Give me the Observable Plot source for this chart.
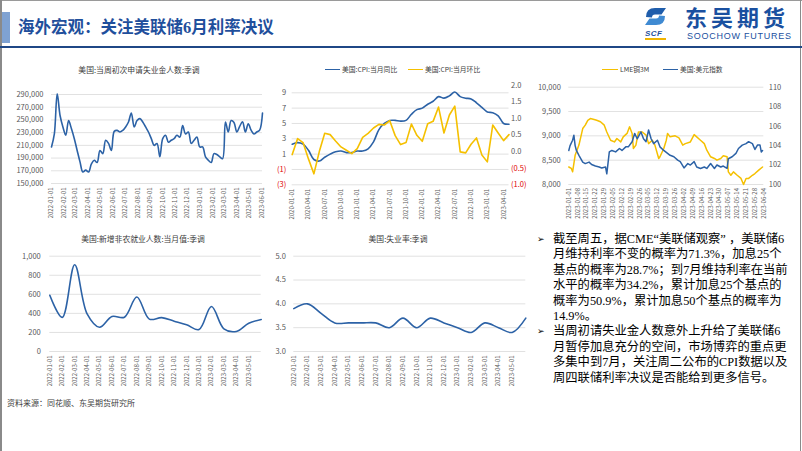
<!DOCTYPE html>
<html><head><meta charset="utf-8">
<script src="https://cdn.jsdelivr.net/npm/d3@7"></script>
<script src="https://cdn.jsdelivr.net/npm/@observablehq/plot@0.6"></script>
<style>
html,body{margin:0;padding:0;background:#fff;}
#slide{position:relative;width:802px;height:451px;overflow:hidden;background:#fff;font-family:"Noto Sans CJK SC","Noto Sans",sans-serif;}
.a{position:absolute;white-space:nowrap;}
.ct{font-size:7.8px;color:#404040;line-height:10px;transform:translateX(-50%);}
.lg{font-size:6.8px;color:#404040;line-height:10px;}
.sw{position:absolute;height:0;border-top:1.6px solid;}
.bl{display:flex;}
.bu{font-family:"DejaVu Sans";font-size:9px;width:16px;flex:none;}
</style></head>
<body>
<div id="slide">
  <div class="a" style="left:0;top:0;width:802px;height:1px;background:#9a9a9a"></div>
  <div class="a" style="left:0;top:0;width:1.5px;height:451px;background:#8a8a8a"></div>
  <div class="a" style="left:799.5px;top:0;width:1.5px;height:451px;background:#8a8a8a"></div>
  <div class="a" style="left:2px;top:12px;width:8px;height:31px;background:#7fa2d2"></div>
  <div class="a" style="left:18px;top:17px;font-family:'Liberation Serif','Noto Sans CJK SC';font-weight:700;font-size:16.5px;line-height:22px;color:#1f4f9c">海外宏观：关注美联储6月利率决议</div>
  <div class="a" style="left:0;top:46px;width:802px;height:2px;background:#1f4786"></div>
  <svg class="a" style="left:644px;top:6px" width="23" height="21" viewBox="0 0 23 21">
    <path d="M2 11 Q2 2 11 2 L22 2 L17.5 8.5 L11 8.5 Q8 8.5 8 11.5 Z" fill="#1f5dab"/>
    <path d="M21 10 Q21 19 12 19 L1 19 L5.5 12.5 L12 12.5 Q15 12.5 15 9.5 Z" fill="#3f8ad2"/>
  </svg>
  <div class="a" style="left:645px;top:29px;font-family:'Liberation Sans';font-weight:700;font-style:italic;font-size:8px;line-height:9px;color:#1f4f9c;letter-spacing:0.5px">SCF</div>
  <div class="a" style="left:645px;top:38px;width:21px;height:2px;background:#f0b400"></div>
  <div class="a" style="left:685px;top:4px;font-weight:700;font-size:22px;line-height:25px;color:#1a50a0;letter-spacing:4px">东吴期货</div>
  <div class="a" style="left:687px;top:32px;font-family:'Liberation Sans';font-size:9px;line-height:9px;color:#1a50a0;letter-spacing:0.75px">SOOCHOW FUTURES</div>

  <div class="a ct" style="left:139px;top:65px">美国:当周初次申请失业金人数:季调</div>
  <div class="a" id="c1" style="left:15px;top:85px"></div>

  <div class="a sw" style="left:325px;top:69px;width:15px;border-color:#2c62a6"></div>
  <div class="a lg" style="left:342px;top:64px">美国:CPI:当月同比</div>
  <div class="a sw" style="left:408px;top:69px;width:15px;border-color:#f5c000"></div>
  <div class="a lg" style="left:425px;top:64px">美国:CPI:当月环比</div>
  <div class="a" id="c2" style="left:265px;top:80px"></div>

  <div class="a sw" style="left:602px;top:69px;width:16px;border-color:#f5c000"></div>
  <div class="a lg" style="left:620px;top:64px">LME铜3M</div>
  <div class="a sw" style="left:663px;top:69px;width:15px;border-color:#2c62a6"></div>
  <div class="a lg" style="left:680px;top:64px">美国:美元指数</div>
  <div class="a" id="c3" style="left:530px;top:80px"></div>

  <div class="a ct" style="left:143px;top:234px">美国:新增非农就业人数:当月值:季调</div>
  <div class="a" id="c4" style="left:15px;top:248px"></div>

  <div class="a ct" style="left:398px;top:234px">美国:失业率:季调</div>
  <div class="a" id="c5" style="left:265px;top:248px"></div>

  <div class="a" style="left:537px;top:232px;font-family:'Liberation Serif','Noto Sans CJK SC';font-size:12.3px;line-height:15.4px;color:#000">
    <div class="bl"><span class="bu">➢</span><span>截至周五，据CME“美联储观察” ，美联储6<br>月维持利率不变的概率为71.3%，加息25个<br>基点的概率为28.7%；到7月维持利率在当前<br>水平的概率为34.2%，累计加息25个基点的<br>概率为50.9%，累计加息50个基点的概率为<br>14.9%。</span></div>
    <div class="bl"><span class="bu">➢</span><span>当周初请失业金人数意外上升给了美联储6<br>月暂停加息充分的空间，市场博弈的重点更<br>多集中到7月，关注周二公布的CPI数据以及<br>周四联储利率决议是否能给到更多信号。</span></div>
  </div>

  <div class="a" style="left:7px;top:397px;font-size:8px;line-height:11px;color:#404040">资料来源：同花顺、东吴期货研究所</div>
</div>
<script>
// ---------- data ----------
const claimsStart = "2022-01-01";
const claimsValues = [207500,228000,291000,257000,239000,226000,249000,236000,220500,202000,
  184000,168000,171000,168000,181000,186600,183000,202000,197000,218000,
  213000,202000,232000,233600,231000,233600,239000,246700,261000,239000,
  249000,252000,246700,239000,231000,220500,210000,213000,192000,220500,
  226000,215000,218000,220500,226000,223000,241000,228000,231000,213000,
  218000,223000,207500,207500,192000,186600,183000,197000,195500,192000,
  189000,246700,231000,249000,246000,231000,240000,247000,231000,244000,
  234000,228000,231000,234000,261000];
const claimsYTicks = [150000,170000,190000,210000,230000,250000,270000,290000];
const claimsXTicks = ["2022-01-01","2022-02-01","2022-03-01","2022-04-01","2022-05-01","2022-06-01",
  "2022-07-01","2022-08-01","2022-09-01","2022-10-01","2022-11-01","2022-12-01",
  "2023-01-01","2023-02-01","2023-03-01","2023-04-01","2023-05-01","2023-06-01"];

const cpiYoY = [2.3,2.5,2.3,1.5,0.3,0.1,0.6,1.0,1.3,1.4,1.2,1.2,1.4,1.4,1.7,2.6,4.2,5.0,5.4,5.4,
  5.3,5.4,6.2,6.8,7.0,7.5,7.9,8.5,8.3,8.6,9.1,8.5,8.3,8.2,7.7,7.1,6.5,6.4,6.0,5.0,4.9];
const cpiMoM = [-0.09,0.39,0.27,-0.22,-0.67,0.0,0.55,0.51,0.32,0.14,0.04,-0.06,0.09,0.43,0.55,0.71,
  0.82,0.80,0.93,0.48,0.21,0.27,0.83,0.49,0.31,0.84,0.91,1.34,0.56,1.10,1.37,-0.01,-0.04,0.22,
  0.41,-0.10,-0.31,0.80,0.56,0.33,0.51];
const cpiLeftTicks = [-3,-1,1,3,5,7,9];
const cpiRightTicks = [-1.0,-0.5,0.0,0.5,1.0,1.5,2.0];
const cpiXTicks = ["2020-01-01","2020-04-01","2020-07-01","2020-10-01","2021-01-01","2021-04-01",
  "2021-07-01","2021-10-01","2022-01-01","2022-04-01","2022-07-01","2022-10-01","2023-01-01","2023-04-01"];

const lmeStart = "2023-01-01";
const copperDays = [0,2,3,5,8,11,13,15,17,20,22,25,28,30,33,36,38,41,43,46,48,50,51,53,55,58,61,63,66,68,
  71,72,75,77,78,80,84,87,90,92,96,99,101,104,107,109,112,115,117,120,122,125,126,128,130,133,136,138,
  140,142,145,147,150,153];
const copperVals = [8360,8330,8260,8600,8810,9150,9220,9320,9355,9335,9320,9290,9220,9080,8910,8875,
  8945,8875,8980,9050,9185,9050,8740,8810,9080,9080,9015,8840,8910,8810,8535,8570,8740,8910,9050,
  8980,9000,8960,8810,8840,8875,9025,8980,8910,8840,8705,8570,8535,8500,8535,8590,8570,8260,8190,
  8260,8190,8125,8000,8125,8125,8190,8225,8295,8360];
const dxyDays = [0,1,3,4,5,6,8,11,13,16,18,21,24,26,29,30,32,34,37,40,42,45,47,50,52,54,57,59,61,63,
  65,67,70,72,75,78,80,83,86,88,91,94,96,99,101,104,107,109,112,115,117,120,122,125,126,129,132,134,
  137,140,142,145,147,149,151,152,153];
const dxyVals = [103.5,104.0,104.55,105.07,104.0,103.5,103.0,102.3,102.15,102.3,102.05,101.9,101.8,
  101.7,101.8,101.1,103.35,103.5,103.35,103.7,103.5,103.87,103.87,104.4,105.25,104.7,105.4,104.7,
  104.4,105.6,104.7,104.2,104.55,103.87,103.5,103.2,103.0,102.85,102.5,102.35,101.7,102.15,102.0,
  102.35,101.8,101.65,101.8,101.65,102.15,101.65,102.0,101.8,101.9,101.65,102.65,102.85,103.2,
  103.7,104.05,104.2,104.4,104.2,103.6,104.05,104.05,103.35,103.5];
const lmeLeftTicks = [8000,8500,9000,9500,10000];
const lmeRightTicks = [100,102,104,106,108,110];
const lmeXTicks = ["2023-01-01","2023-01-08","2023-01-15","2023-01-22","2023-01-29","2023-02-05",
  "2023-02-12","2023-02-19","2023-02-26","2023-03-05","2023-03-12","2023-03-19","2023-03-26",
  "2023-04-02","2023-04-09","2023-04-16","2023-04-23","2023-04-30","2023-05-07","2023-05-14",
  "2023-05-21","2023-05-28","2023-06-04"];

const monthLabels = ["2022-01-01","2022-02-01","2022-03-01","2022-04-01","2022-05-01","2022-06-01",
  "2022-07-01","2022-08-01","2022-09-01","2022-10-01","2022-11-01","2022-12-01",
  "2023-01-01","2023-02-01","2023-03-01","2023-04-01","2023-05-01"];
const nfpValues = [590,358,910,395,255,368,360,572,340,355,318,280,230,472,238,210,297,336];
const nfpYTicks = [0,200,400,600,800,1000];
const unempValues = [3.9,4.0,3.8,3.6,3.6,3.6,3.6,3.5,3.7,3.5,3.7,3.6,3.5,3.4,3.6,3.5,3.4,3.7];
const unempYTicks = [3.0,3.5,4.0,4.5,5.0];

// ---------- drawing ----------
const BLUE = "#2c62a6", YEL = "#f5c000", GRID = "#d9d9d9", RED = "#e00000";
const baseStyle = {fontFamily: '"Noto Sans CJK SC","Noto Sans",sans-serif', fontSize: "7.5px",
  color: "#595959", background: "transparent", overflow: "visible"};
const parse = d3.utcParse("%Y-%m-%d");
const fmtDay = d3.utcFormat("%Y-%m-%d");
const put = (id, svg) => document.getElementById(id).appendChild(svg);
const gridOpts = {stroke: GRID, strokeOpacity: 1, strokeWidth: 0.8};
const xAxisOpts = {tickSize: 0, tickPadding: 4, tickRotate: -90, fontSize: 6, label: null};

// 1. initial claims
const c1 = claimsValues.map((v, i) => ({d: d3.utcDay.offset(parse(claimsStart), 7 * i), v}));
put("c1", Plot.plot({
  width: 250, height: 140, marginTop: 9, marginBottom: 42, marginLeft: 36, marginRight: 3,
  style: baseStyle,
  x: {type: "utc", domain: [parse("2022-01-01"), parse("2023-06-03")], axis: null},
  y: {domain: [150000, 290000], axis: null},
  marks: [
    Plot.gridY(claimsYTicks, gridOpts),
    Plot.axisY(claimsYTicks, {tickSize: 0, tickPadding: 8, tickFormat: d3.format(","), label: null}),
    Plot.axisX(claimsXTicks.map(parse), {...xAxisOpts, tickFormat: fmtDay}),
    Plot.lineY(c1, {x: "d", y: "v", stroke: BLUE, strokeWidth: 1.6, curve: "catmull-rom"})
  ]
}));

// 2. CPI (dual axis: right values mapped onto left scale)
const toL = v => 4 / 3 + (13 / 3) * v;
const fromL = L => Math.round(((L - 4 / 3) / (13 / 3)) * 10) / 10;
const cpi = cpiYoY.map((v, i) => ({i, yoy: v, mom: toL(cpiMoM[i])}));
put("c2", Plot.plot({
  width: 270, height: 145, marginTop: 12.3, marginBottom: 40.7, marginLeft: 26.7, marginRight: 26.5,
  style: baseStyle,
  x: {domain: [0, 40], axis: null},
  y: {domain: [-3, 9], axis: null},
  marks: [
    Plot.gridY(cpiLeftTicks, gridOpts),
    Plot.axisY(cpiLeftTicks.filter(d => d >= 0), {tickSize: 0, tickPadding: 6, label: null}),
    Plot.axisY(cpiLeftTicks.filter(d => d < 0), {tickSize: 0, tickPadding: 6, color: RED, tickFormat: d => `(${-d})`, label: null}),
    Plot.axisY(cpiRightTicks.filter(v => v >= 0).map(toL), {anchor: "right", tickSize: 0, tickPadding: 2, tickFormat: L => fromL(L).toFixed(1), label: null}),
    Plot.axisY(cpiRightTicks.filter(v => v < 0).map(toL), {anchor: "right", tickSize: 0, tickPadding: 2, color: RED, tickFormat: L => `(${Math.abs(fromL(L)).toFixed(1)})`, label: null}),
    Plot.axisX(cpiXTicks.map((s, k) => 3 * k), {...xAxisOpts, tickFormat: d => cpiXTicks[d / 3]}),
    Plot.lineY(cpi, {x: "i", y: "yoy", stroke: BLUE, strokeWidth: 1.6, curve: "catmull-rom"}),
    Plot.lineY(cpi, {x: "i", y: "mom", stroke: YEL, strokeWidth: 1.6})
  ]
}));

// 3. LME copper & dollar index
const toCu = r => 8000 + (r - 100) * 200;
const fromCu = L => Math.round(100 + (L - 8000) / 200);
const cu = copperDays.map((d, i) => ({d: d3.utcDay.offset(parse(lmeStart), d), v: copperVals[i]}));
const dx = dxyDays.map((d, i) => ({d: d3.utcDay.offset(parse(lmeStart), d), v: toCu(dxyVals[i])}));
put("c3", Plot.plot({
  width: 272, height: 145, marginTop: 6.7, marginBottom: 41, marginLeft: 38.3, marginRight: 38.7,
  style: baseStyle,
  x: {type: "utc", domain: [parse("2023-01-01"), parse("2023-06-04")], axis: null},
  y: {domain: [8000, 10000], axis: null},
  marks: [
    Plot.gridY(lmeLeftTicks, gridOpts),
    Plot.axisY(lmeLeftTicks, {tickSize: 0, tickPadding: 8, tickFormat: d3.format(","), label: null}),
    Plot.axisY(lmeRightTicks.map(toCu), {anchor: "right", tickSize: 0, tickPadding: 5, tickFormat: L => String(fromCu(L)), label: null}),
    Plot.axisX(lmeXTicks.map(parse), {...xAxisOpts, tickPadding: 3.5, tickFormat: fmtDay}),
    Plot.lineY(cu, {x: "d", y: "v", stroke: YEL, strokeWidth: 1.5}),
    Plot.lineY(dx, {x: "d", y: "v", stroke: BLUE, strokeWidth: 1.5})
  ]
}));

// 4. NFP
const nfp = nfpValues.map((v, i) => ({i, v}));
put("c4", Plot.plot({
  width: 250, height: 140, marginTop: 7.7, marginBottom: 37, marginLeft: 34.3, marginRight: 4.3,
  style: baseStyle,
  x: {domain: [0, 17], axis: null},
  y: {domain: [0, 1000], axis: null},
  marks: [
    Plot.gridY(nfpYTicks, gridOpts),
    Plot.axisY(nfpYTicks, {tickSize: 0, tickPadding: 9, tickFormat: d3.format(","), label: null}),
    Plot.axisX(monthLabels.map((s, k) => k), {...xAxisOpts, tickFormat: d => monthLabels[d]}),
    Plot.lineY(nfp, {x: "i", y: "v", stroke: BLUE, strokeWidth: 1.6, curve: "catmull-rom"})
  ]
}));

// 5. unemployment rate
const ur = unempValues.map((v, i) => ({i, v}));
put("c5", Plot.plot({
  width: 270, height: 140, marginTop: 7.7, marginBottom: 37, marginLeft: 28.3, marginRight: 9.7,
  style: baseStyle,
  x: {domain: [0, 17], axis: null},
  y: {domain: [3, 5], axis: null},
  marks: [
    Plot.gridY(unempYTicks, gridOpts),
    Plot.axisY(unempYTicks, {tickSize: 0, tickPadding: 8, tickFormat: d3.format(".1f"), label: null}),
    Plot.axisX(monthLabels.map((s, k) => k), {...xAxisOpts, tickFormat: d => monthLabels[d]}),
    Plot.lineY(ur, {x: "i", y: "v", stroke: BLUE, strokeWidth: 1.6, curve: "catmull-rom"})
  ]
}));
</script>
</body></html>
